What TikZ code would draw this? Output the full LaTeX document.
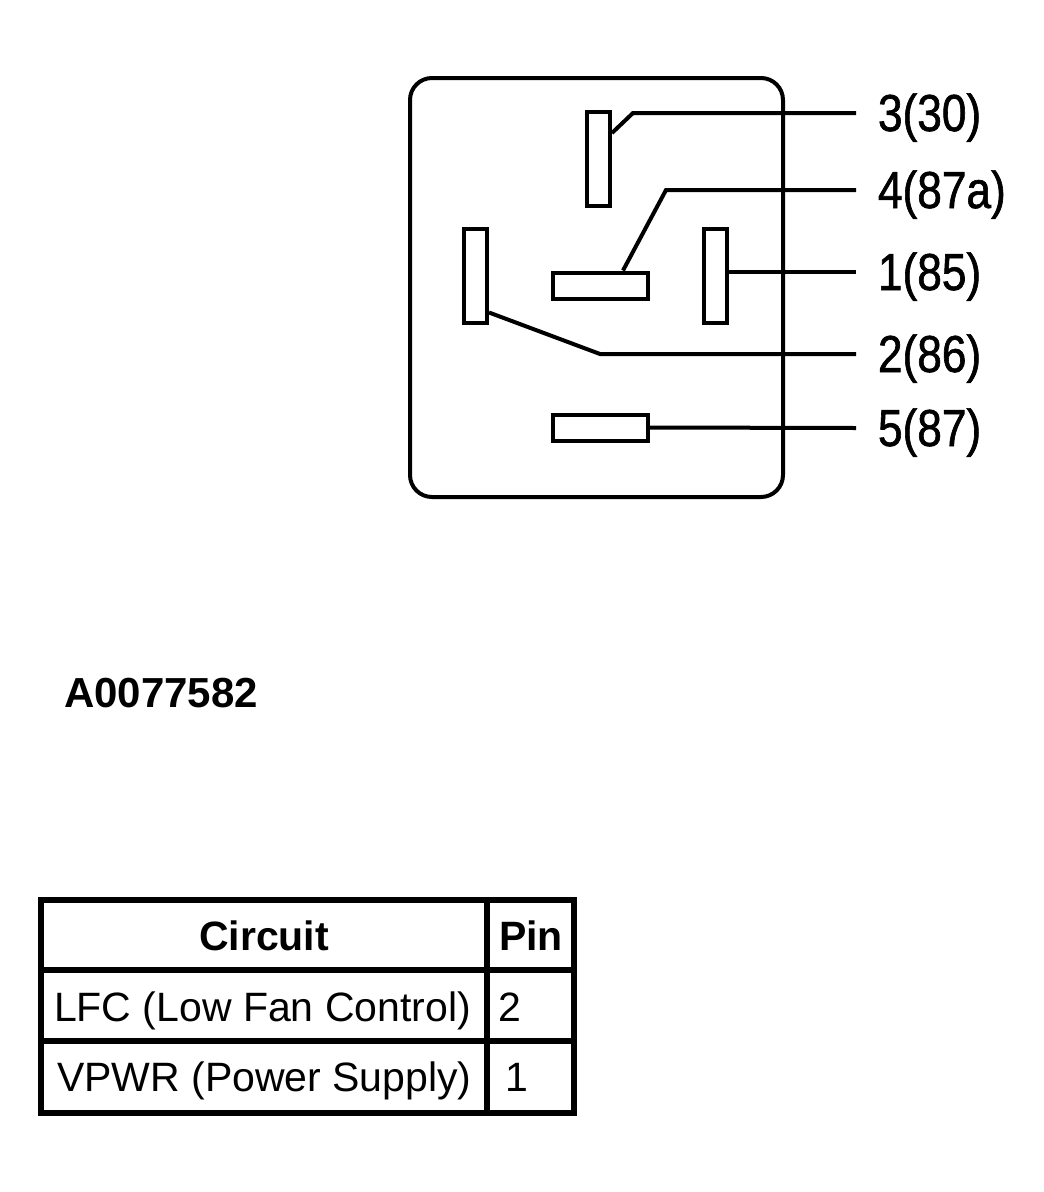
\documentclass[tikz,border=0pt]{standalone}
\usepackage{fontspec}
\setmainfont{Liberation Sans}
\newfontfamily\lblfont[FakeStretch=0.85, FakeBold=1.2]{Liberation Sans}
\begin{document}
\begin{tikzpicture}[x=1pt, y=-1pt, line width=4pt,
  pin/.style={draw, rectangle, inner sep=0pt, line width=4pt},
  vpin/.style={pin, minimum width=23pt, minimum height=94pt},
  hpin/.style={pin, minimum width=95pt, minimum height=26pt},
  pinlabel/.style={anchor=base west, inner sep=0pt, font=\lblfont\fontsize{52}{56}\selectfont},
  tabtext/.style={inner sep=0pt, anchor=base west, font=\fontsize{41}{46}\selectfont},
  tabhead/.style={tabtext, anchor=base, font=\fontsize{41}{46}\selectfont\bfseries}]
  \useasboundingbox (0,0) rectangle (1044,1192);
  \draw[rounded corners=22pt] (410,78) rectangle (783,497);
  \node[vpin] (p3) at (598.5,159) {};
  \node[vpin] (p2) at (475.5,275.5) {};
  \node[vpin] (p1) at (715,275.5) {};
  \node[hpin] (p4) at (600.5,285.5) {};
  \node[hpin] (p5) at (600.5,427.5) {};
  \node[pinlabel] (l3) at (876,131) {3(30)};
  \node[pinlabel] (l4) at (876,208) {4(87a)};
  \node[pinlabel] (l1) at (876,290) {1(85)};
  \node[pinlabel] (l2) at (876,372) {2(86)};
  \node[pinlabel] (l5) at (876,446) {5(87)};
  \coordinate (b3) at (633,113);
  \coordinate (b4) at (666,190);
  \coordinate (b2) at (600,354);
  \draw ([yshift=26pt]p3.east) -- (b3) -- ([shift={(-20pt,18pt)}]l3.base west);
  \draw ([xshift=22.5pt]p4.north) -- (b4) -- ([shift={(-20pt,18pt)}]l4.base west);
  \draw (p1.east |- 0,272) -- ([shift={(-20pt,18pt)}]l1.base west);
  \draw ([yshift=-37pt]p2.east) -- (b2) -- ([shift={(-20pt,18pt)}]l2.base west);
  \draw (p5.east) -- ([shift={(-20pt,18pt)}]l5.base west);
  \node[inner sep=0pt, font=\fontsize{42}{46}\selectfont\bfseries, anchor=base west] (fig) at (62,707) {A0077582};
  \draw[line width=6pt] (41,900) rectangle (574,1113);
  \draw[line width=6pt] (487,900) -- (487,1113);
  \draw[line width=6pt] (41,970) -- (574,970);
  \draw[line width=6pt] (41,1041) -- (574,1041);
  \node[tabhead] (hcirc) at (264,950) {Circuit};
  \node[tabhead] (hpin) at (531,950) {Pin};
  \node[tabtext] (c1) at (52,1021) {LFC (Low Fan Control)};
  \node[tabtext] (n1) at (496,1021) {2};
  \node[tabtext] (c2) at (55,1091) {VPWR (Power Supply)};
  \node[tabtext] (n2) at (503,1091) {1};
\end{tikzpicture}
\end{document}
